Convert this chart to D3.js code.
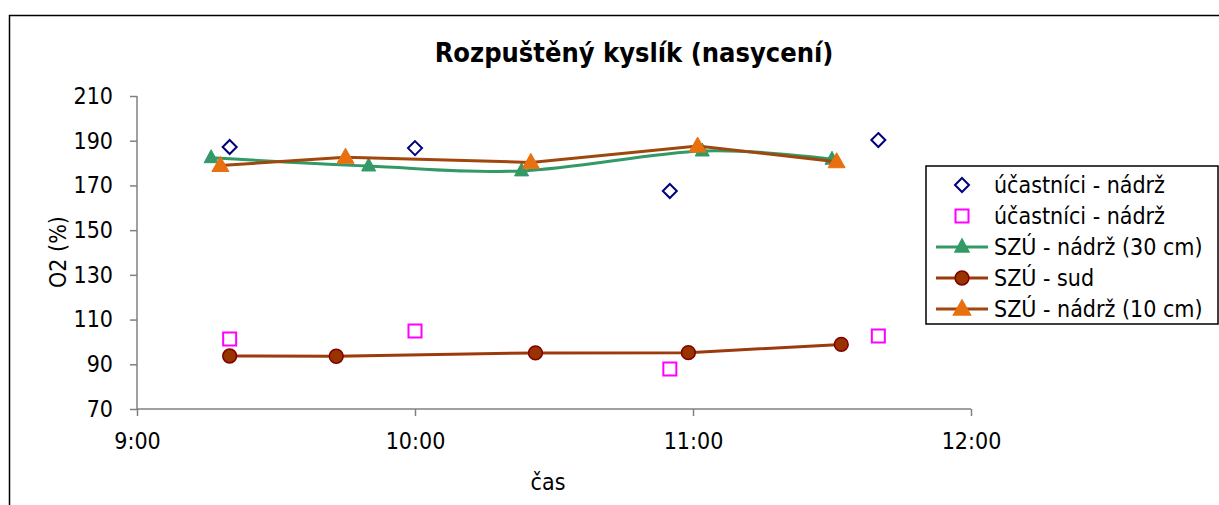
<!DOCTYPE html>
<html>
<head>
<style>
  body {
    margin: 0;
    background-color: #ffffff;
  }
  svg text {
    font-family: "DejaVu Sans Condensed", "DejaVu Sans", sans-serif;
    fill: #000;
  }
</style>
<script src="https://d3js.org/d3.v7.min.js"></script>
</head>
<body>
<script>
// dissolved oxygen chart - saturation over time
const yTicks = [70, 90, 110, 130, 150, 170, 190, 210];
const xTicks = ['9:00', '10:00', '11:00', '12:00'];

const visitorTimes = ['9:20', '10:00', '10:55', '11:40'];
const visitorTank = [187.2, 186.7, 167.5, 190.3];
const visitorTank2 = [101.3, 104.9, 87.9, 102.7];

const tank30Times = ['9:16', '9:50', '10:23', '11:02', '11:30'];
const tank30 = [182.4, 178.7, 176.5, 185.4, 181.7];

const barrelTimes = ['9:20', '9:43', '10:26', '10:59', '11:32'];
const barrel = [93.7, 93.6, 95.1, 95.2, 98.9];

const tank10Times = ['9:18', '9:45', '10:25', '11:01', '11:31'];
const tank10 = [178.9, 182.6, 180.3, 187.6, 180.6];

const legendLabels = [
  'účastníci - nádrž',
  'účastníci - nádrž',
  'SZÚ - nádrž (30 cm)',
  'SZÚ - sud',
  'SZÚ - nádrž (10 cm)'
];

const parseTime = d3.timeParse('%H:%M');
const zip = (times, vals) => times.map((t, i) => ({ t: parseTime(t), v: vals[i] }));

const width = 1219, height = 505;
const fontStack = '"DejaVu Sans Condensed", "DejaVu Sans", sans-serif';

const svg = d3.select('body')
  .append('svg')
  .attr('width', width)
  .attr('height', height);

// outer chart border
svg.append('rect')
  .attr('x', 9.5).attr('y', 15.5)
  .attr('width', width).attr('height', height)
  .attr('fill', 'none')
  .attr('stroke', '#000')
  .attr('stroke-width', 1.5);

const x = d3.scaleTime()
  .domain([parseTime('9:00'), parseTime('12:00')])
  .range([137, 971]);

const y = d3.scaleLinear()
  .domain([70, 210])
  .range([409, 96]);

// axes
const axisColor = '#808080';

const yAxis = svg.append('g')
  .attr('transform', 'translate(137,0)')
  .call(d3.axisLeft(y).tickValues(yTicks).tickSize(7).tickPadding(17));

const xAxis = svg.append('g')
  .attr('transform', 'translate(0,409)')
  .call(d3.axisBottom(x).tickValues(xTicks.map(parseTime)).tickSize(7).tickPadding(17)
    .tickFormat(d3.timeFormat('%-H:%M')));

[yAxis, xAxis].forEach(g => {
  g.selectAll('path, line').attr('stroke', axisColor).attr('stroke-width', 1.5);
  g.select('.domain').attr('d', g === yAxis ? 'M0,96V409' : 'M137,0H971');
  g.selectAll('text').attr('font-size', 23).attr('fill', '#000')
    .style('font-family', fontStack);
});

// titles
svg.append('text')
  .attr('x', 634).attr('y', 62)
  .attr('text-anchor', 'middle')
  .attr('font-size', 27)
  .attr('font-weight', 'bold')
  .text('Rozpuštěný kyslík (nasycení)');

svg.append('text')
  .attr('transform', 'translate(66,252) rotate(-90)')
  .attr('text-anchor', 'middle')
  .attr('font-size', 23)
  .text('O2 (%)');

svg.append('text')
  .attr('x', 548).attr('y', 490)
  .attr('text-anchor', 'middle')
  .attr('font-size', 23)
  .text('čas');

// marker helpers
const sym = (type, size) => d3.symbol().type(type).size(size)();

const drawLine = (data, color, curve) => {
  svg.append('path')
    .datum(data)
    .attr('fill', 'none')
    .attr('stroke', color)
    .attr('stroke-width', 3)
    .attr('d', d3.line().x(d => x(d.t)).y(d => y(d.v)).curve(curve));
};

const drawMarkers = (data, path, fill, stroke, sw) => {
  svg.append('g').selectAll('path')
    .data(data)
    .join('path')
    .attr('transform', d => `translate(${x(d.t)},${y(d.v)})`)
    .attr('d', path)
    .attr('fill', fill)
    .attr('stroke', stroke)
    .attr('stroke-width', sw);
};

const diamondPath = 'M0,-7L7,0L0,7L-7,0Z';
const squarePath = 'M-6.5,-6.5H6.5V6.5H-6.5Z';
const triSmall = 'M0,-8L7,5L-7,5Z';
const triBig = 'M0,-9L8.5,6L-8.5,6Z';

const cGreen = '#339966';
const cBrown = '#a0470e';
const cSud = '#9c3a0c';
const cOrange = '#e8700f';

drawMarkers(zip(visitorTimes, visitorTank), diamondPath, 'none', '#000080', 2);
drawMarkers(zip(visitorTimes, visitorTank2), squarePath, 'none', '#ff00ff', 2);

drawLine(zip(tank30Times, tank30), cGreen, d3.curveCatmullRom.alpha(0));
drawMarkers(zip(tank30Times, tank30), triSmall, cGreen, cGreen, 1);

drawLine(zip(barrelTimes, barrel), cSud, d3.curveLinear);
drawMarkers(zip(barrelTimes, barrel), sym(d3.symbolCircle, 150), '#993300', '#800000', 1.5);

drawLine(zip(tank10Times, tank10), cBrown, d3.curveLinear);
drawMarkers(zip(tank10Times, tank10), triBig, cOrange, cOrange, 1);

// legend
const legend = svg.append('g').attr('transform', 'translate(926,166)');
legend.append('rect')
  .attr('width', 292).attr('height', 158)
  .attr('fill', '#fff')
  .attr('stroke', '#000')
  .attr('stroke-width', 1.5);

const legendItems = [
  { marker: diamondPath, fill: 'none', stroke: '#000080', line: null },
  { marker: squarePath, fill: 'none', stroke: '#ff00ff', line: null },
  { marker: triSmall, fill: cGreen, stroke: cGreen, line: cGreen },
  { marker: sym(d3.symbolCircle, 150), fill: '#993300', stroke: '#800000', line: cSud },
  { marker: triBig, fill: cOrange, stroke: cOrange, line: cBrown }
];

legendItems.forEach((item, i) => {
  const row = legend.append('g').attr('transform', `translate(0,${19 + i * 31})`);
  if (item.line) {
    row.append('line')
      .attr('x1', 10).attr('x2', 62)
      .attr('stroke', item.line).attr('stroke-width', 3);
  }
  row.append('path')
    .attr('transform', 'translate(36,0)')
    .attr('d', item.marker)
    .attr('fill', item.fill)
    .attr('stroke', item.stroke)
    .attr('stroke-width', item.line ? 1.5 : 2);
  row.append('text')
    .attr('x', 68).attr('y', 8)
    .attr('font-size', 23)
    .text(legendLabels[i]);
});
</script>
</body>
</html>
